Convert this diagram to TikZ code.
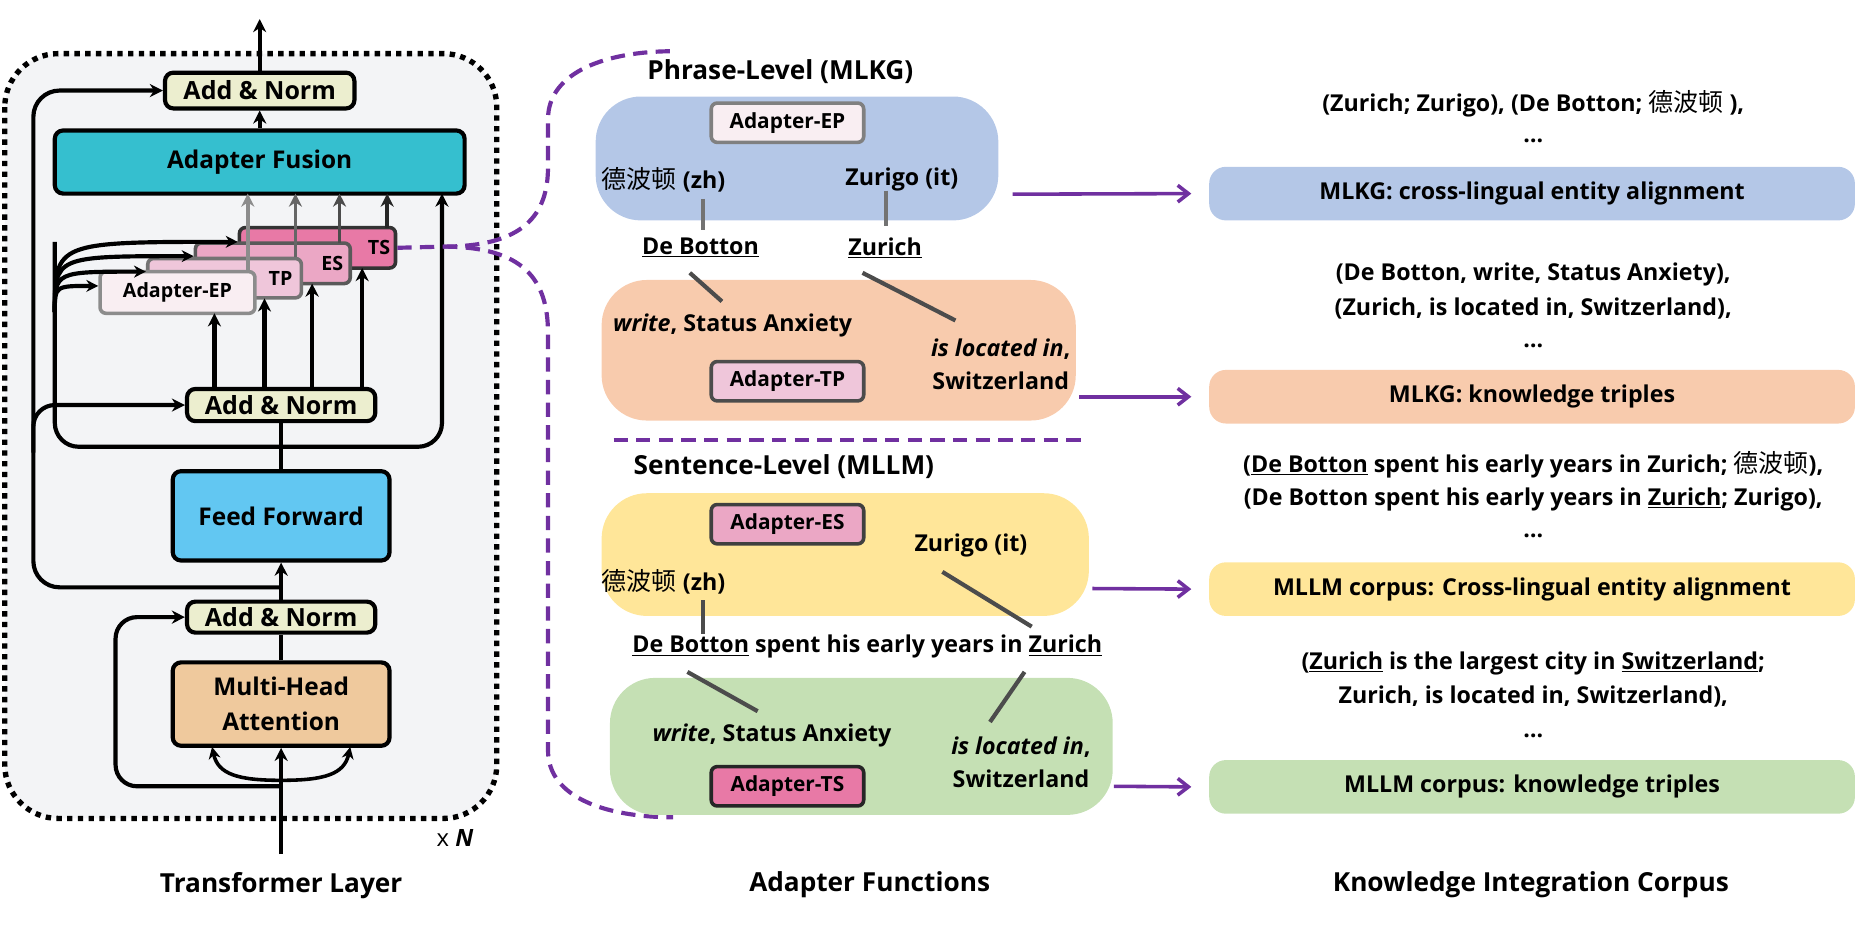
\documentclass[tikz,border=0pt]{standalone}
\usepackage{fontspec}
\setmainfont{Open Sans}
\newfontfamily\cjkf{Noto Sans CJK SC}
\newcommand{\zhn}{{\cjkf\mdseries\fontsize{21}{22}\selectfont 德波顿}}
\usetikzlibrary{arrows.meta,calc}
\definecolor{purp}{HTML}{7030A0}
\begin{document}
\begin{tikzpicture}[x=1pt,y=-1pt,
  every node/.style={font=\fontsize{19.5}{22}\selectfont\bfseries, inner sep=0pt},
  box/.style={draw, line width=3.5pt, rounded corners=7pt, align=center},
  arr/.style={line width=3.5pt, -{Stealth[length=11pt,width=11pt]}},
  ln/.style={line width=3.5pt},
  adp/.style={draw, line width=3pt, rounded corners=5pt, minimum width=128pt, minimum height=33pt, font=\fontsize{17.5}{20}\selectfont\bfseries},
  sadp/.style={font=\fontsize{16.5}{20}\selectfont\bfseries},
  conn/.style={line width=3.5pt, draw=black!70},
  pd/.style={draw=purp, line width=3.5pt, dash pattern=on 12pt off 7pt},
  parr/.style={draw=purp, line width=3pt, -{Straight Barb[length=9pt,width=14pt]}},
  bg/.style={rounded corners=38pt},
  rb/.style={rounded corners=14pt, minimum width=542pt, minimum height=45pt},
  ttl/.style={font=\fontsize{22}{24}\selectfont\bfseries},
  an/.style={box, fill={rgb,255:red,236;green,238;blue,207}, font=\fontsize{21}{24}\selectfont\bfseries}
]
\useasboundingbox (0,0) rectangle (1568,777);
% ===== left panel =====
\fill[rounded corners=45pt, fill={rgb,255:red,243;green,244;blue,246}] (4,45) rectangle (417,687);
\draw[line width=4.5pt, dash pattern=on 4.5pt off 4.5pt, rounded corners=45pt] (4,45) rectangle (417,687);

\node[an, minimum width=159pt, minimum height=30pt] (an3) at (218,76) {Add \& Norm};
\node[box, fill={rgb,255:red,53;green,191;blue,207}, minimum width=344pt, minimum height=53pt, font=\fontsize{20.5}{24}\selectfont\bfseries] (af) at (218,136) {Adapter Fusion};
\node[an, minimum width=158pt, minimum height=27pt] (an2) at (236,340) {Add \& Norm};
\node[box, fill={rgb,255:red,98;green,199;blue,242}, minimum width=182pt, minimum height=75pt, font=\fontsize{20.5}{24}\selectfont\bfseries] (ff) at (236,433) {Feed Forward};
\node[an, minimum width=158pt, minimum height=26pt] (an1) at (236,518) {Add \& Norm};
\node[box, fill={rgb,255:red,239;green,201;blue,157}, minimum width=182pt, minimum height=70pt, font=\fontsize{20.5}{29}\selectfont\bfseries] (mha) at (236,591) {Multi-Head\\Attention};

\node[adp, sadp, draw=black!80, fill={rgb,255:red,232;green,121;blue,166}, minimum width=131pt, minimum height=34pt, text width=122pt, align=right] (ts) at (266.5,208) {TS};
\node[adp, sadp, draw=black!65, fill={rgb,255:red,235;green,167;blue,197}, minimum width=130pt, minimum height=34pt, text width=118pt, align=right] (es) at (229,221) {ES};
\node[adp, sadp, draw=black!55, fill={rgb,255:red,239;green,198;blue,218}, minimum width=129pt, minimum height=33pt, text width=114pt, align=right] (tp) at (188.5,233.5) {TP};
\node[adp, sadp, draw=black!45, fill={rgb,255:red,249;green,238;blue,242}, minimum width=130pt, minimum height=35pt] (ep) at (149,245.5) {Adapter-EP};

% main line
\coordinate (in) at (236,717);
\draw[arr] (in) -- (mha.south);
\draw[ln] (mha.north) -- (an1.south);
\draw[arr] (an1.north) -- (ff.south);
\draw[ln] (ff.north) -- (an2.south);
\draw[arr] (af.north) -- (an3.south);
\coordinate (top) at (218,16);
\draw[arr] (an3.north) -- (top);
% mha inputs
\draw[line width=3pt, -{Stealth[length=10pt,width=10pt]}] (236,655) .. controls (200,655) and (183,650) .. (178,627);
\draw[line width=3pt, -{Stealth[length=10pt,width=10pt]}] (236,655) .. controls (272,655) and (289,650) .. (294,627);
% residual 1
\draw[arr, rounded corners=18pt] (236,660) -- (97,660) -- (97,518) -- (an1.west);
% residual 2 big left
\draw[arr, rounded corners=22pt] (236,493) -- (28,493) -- (28,76) -- (an3.west);
\draw[arr, rounded corners=18pt] (28,380) -- (28,340) -- (an2.west);
% loop from an2
\draw[arr, rounded corners=20pt] (236,375) -- (371,375) -- (371,162.5);
\draw[ln, rounded corners=20pt] (236,375) -- (46,375) -- (46,203);
\foreach \n/\y in {ts/203, es/215, tp/228, ep/240}{
  \draw[line width=3.5pt, -{Stealth[length=10pt,width=10pt]}] (46,262) .. controls (46,\y) .. (\n.west|-0,\y);
}
% arrows an2 -> adapters
\draw[arr] (180,326) -- (180,263);
\draw[arr] (222,326) -- (222,250.5);
\draw[arr] (262,326) -- (262,238);
\draw[arr] (304,326) -- (304,225);
% adapters -> fusion
\draw[line width=3pt, draw=black!45, -{Stealth[length=11pt,width=11pt]}] (208,228) -- (208,162.5);
\draw[line width=3pt, draw=black!60, -{Stealth[length=11pt,width=11pt]}] (248,216) -- (248,162.5);
\draw[line width=3pt, draw=black!70, -{Stealth[length=11pt,width=11pt]}] (285,204) -- (285,162.5);
\draw[line width=3pt, draw=black!85, -{Stealth[length=11pt,width=11pt]}] (325,191) -- (325,162.5);
\node[font=\fontsize{20}{22}\selectfont] (xn) at (382,703) {x \textit{\bfseries N}};
\node[ttl] (tl) at (236,743) {Transformer Layer};

% ===== purple dashed =====
\draw[pd] (ts.east) -- (372,207) .. controls (440,207) and (460,180) .. (460,140) -- (460,100) .. controls (460,60) and (510,43) .. (565,43);
\draw[pd] (372,207) .. controls (440,207) and (460,235) .. (460,280) -- (460,630) .. controls (460,670) and (510,686) .. (565,686);
\draw[pd] (515,369) -- (910,369);

% ===== middle =====
\node[ttl] (t1) at (655,60) {Phrase-Level (MLKG)};
\node[bg, fill={rgb,255:red,180;green,199;blue,231}, minimum width=338pt, minimum height=104pt] (blue) at (669,133) {};
\node[adp, draw=black!50, fill={rgb,255:red,249;green,238;blue,242}] (aep) at (661,103) {Adapter-EP};
\node (zh1) at (557,151) {\zhn{} (zh)};
\node (it1) at (757,151) {Zurigo (it)};
\node (db1) at (588,208) {\underline{De Botton}};
\node (zu1) at (743,208) {\underline{Zurich}};
\node[bg, fill={rgb,255:red,248;green,203;blue,173}, minimum width=398pt, minimum height=118pt] (orange) at (704,294) {};
\node (w1) at (615,273) {\textit{write}, Status Anxiety};
\node[align=center, font=\fontsize{19.5}{28}\selectfont\bfseries] (loc1) at (840,306) {\textit{is located in},\\Switzerland};
\node[adp, draw=black!70, fill={rgb,255:red,239;green,198;blue,218}] (atp) at (661,320) {Adapter-TP};
\coordinate (c1a) at (590,167); \coordinate (c1b) at (590,193);
\coordinate (c2a) at (744,160); \coordinate (c2b) at (744,190);
\draw[conn, draw=black!55] (c1a) -- (c1b);
\draw[conn, draw=black!55] (c2a) -- (c2b);
\coordinate (c3a) at (579,229); \coordinate (c3b) at (606,253);
\coordinate (c4a) at (724,229); \coordinate (c4b) at (802,269);
\draw[conn] (c3a) -- (c3b);
\draw[conn] (c4a) -- (c4b);

\node[ttl] (t2) at (658,392) {Sentence-Level (MLLM)};
\node[bg, fill={rgb,255:red,255;green,230;blue,153}, minimum width=409pt, minimum height=103pt] (yellow) at (709.5,465.5) {};
\node[adp, draw=black!75, fill={rgb,255:red,235;green,167;blue,197}] (aes) at (661,440) {Adapter-ES};
\node (it2) at (815,458) {Zurigo (it)};
\node (zh2) at (557,488) {\zhn{} (zh)};
\node (sen) at (728,543) {\underline{De Botton} spent his early years in \underline{Zurich}};
\node[bg, fill={rgb,255:red,197;green,224;blue,180}, minimum width=422pt, minimum height=115pt] (green) at (723,626.5) {};
\node (w2) at (648,617) {\textit{write}, Status Anxiety};
\node[align=center, font=\fontsize{19.5}{28}\selectfont\bfseries] (loc2) at (857,640) {\textit{is located in},\\Switzerland};
\node[adp, draw=black!85, fill={rgb,255:red,232;green,121;blue,166}] (ats) at (661,660) {Adapter-TS};
\coordinate (d1a) at (590,504); \coordinate (d1b) at (590,532);
\coordinate (d2a) at (791,480); \coordinate (d2b) at (866,526);
\coordinate (d3a) at (577,564); \coordinate (d3b) at (636,597);
\coordinate (d4a) at (860,564); \coordinate (d4b) at (831,606);
\draw[conn] (d1a) -- (d1b);
\draw[conn] (d2a) -- (d2b);
\draw[conn] (d3a) -- (d3b);
\draw[conn] (d4a) -- (d4b);
\node[ttl] (af2) at (730,743) {Adapter Functions};

% ===== right =====
\node[rb, fill={rgb,255:red,180;green,199;blue,231}] (r1) at (1286,162.5) {MLKG: cross-lingual entity alignment};
\node[rb, fill={rgb,255:red,248;green,203;blue,173}] (r2) at (1286,333) {MLKG: knowledge triples};
\node[rb, fill={rgb,255:red,255;green,230;blue,153}] (r3) at (1286,494.5) {MLLM corpus: Cross-lingual entity alignment};
\node[rb, fill={rgb,255:red,197;green,224;blue,180}] (r4) at (1286,660.5) {MLLM corpus: knowledge triples};
\coordinate (p1) at (850,163); \coordinate (p2) at (906,333);
\coordinate (p3) at (917,494); \coordinate (p4) at (935,660);
\draw[parr] (p1) -- (r1.west-|1000,0);
\draw[parr] (p2) -- (r2.west-|1000,0);
\draw[parr] (p3) -- (r3.west-|1000,0);
\draw[parr] (p4) -- (r4.west-|1000,0);

\node (e1) at (1287,87) {(Zurich; Zurigo), (De Botton; \zhn{} ),};
\node (e1d) at (1287,118) {…};
\node (e2) at (1287,230) {(De Botton, write, Status Anxiety),};
\node (e2b) at (1287,259) {(Zurich, is located in, Switzerland),};
\node (e2d) at (1287,290) {…};
\node (e3) at (1287,390) {(\underline{De Botton} spent his early years in Zurich; \zhn),};
\node (e3b) at (1287,419) {(De Botton spent his early years in \underline{Zurich}; Zurigo),};
\node (e3d) at (1287,450) {…};
\node (e4) at (1287,557) {(\underline{Zurich} is the largest city in \underline{Switzerland};};
\node (e4b) at (1287,585) {Zurich, is located in, Switzerland),};
\node (e4d) at (1287,618) {…};
\node[ttl] (kc) at (1285,743) {Knowledge Integration Corpus};
\end{tikzpicture}
\end{document}
